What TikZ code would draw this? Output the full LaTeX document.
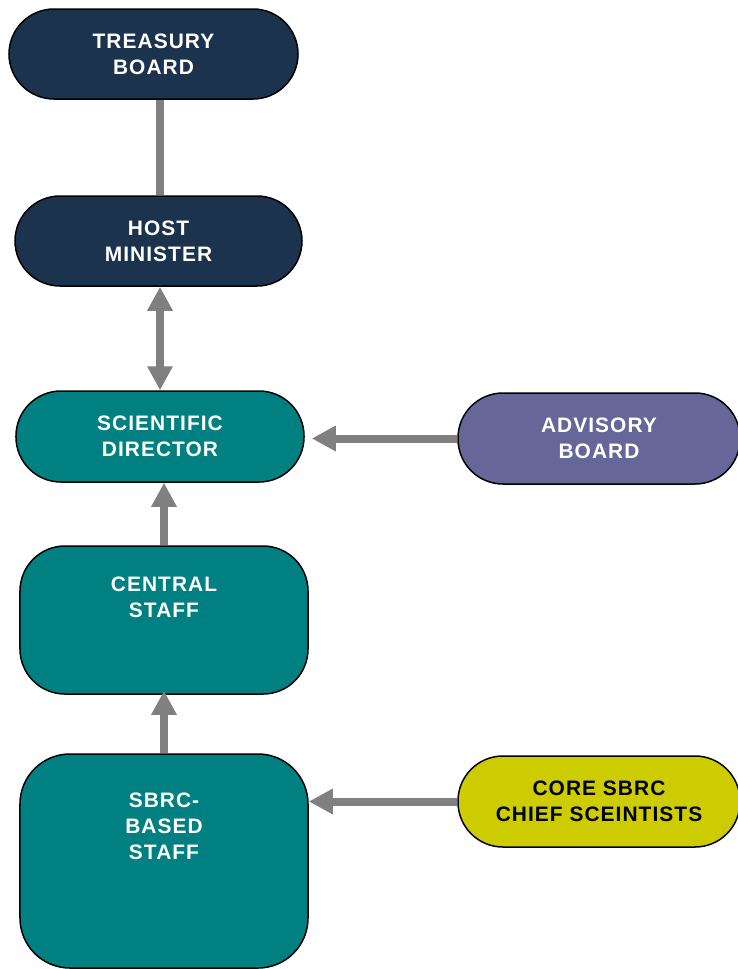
\documentclass[tikz,border=0pt]{standalone}
\usepackage{fontspec}
\setmainfont[LetterSpace=5]{Liberation Sans}
\usetikzlibrary{arrows.meta}

\definecolor{navy}{RGB}{27,51,76}
\definecolor{teal}{RGB}{0,128,128}
\definecolor{slate}{RGB}{102,102,153}
\definecolor{olive}{RGB}{204,204,0}
\definecolor{linkgray}{RGB}{128,128,128}

\tikzset{
  orgbox/.style={draw=black, line width=1.5bp, rounded corners=45bp,
    minimum width=288bp, minimum height=90bp, inner sep=0pt,
    align=center, text=white, font=\bfseries\fontsize{21}{26}\selectfont},
  orgtext/.style={align=center, text=white, inner sep=0pt,
    font=\bfseries\fontsize{21}{26}\selectfont},
  link/.style={draw=linkgray, line width=8bp},
  tip/.style={-{Triangle[length=24bp,width=24bp]}},
  twotip/.style={{Triangle[length=24bp,width=24bp]}-{Triangle[length=24bp,width=24bp]}}
}

\begin{document}
\begin{tikzpicture}[x=1bp,y=-1bp]
  \useasboundingbox (0,0) rectangle (738,969);

  % boxes
  \node[orgbox, fill=navy, minimum width=289bp] (tb) at (153.5,54) {TREASURY\\BOARD};
  \node[orgbox, fill=navy, minimum width=287bp] (hm) at (158.5,241) {HOST\\MINISTER};
  \node[orgbox, fill=teal, minimum height=91bp] (sd) at (160,436.5) {SCIENTIFIC\\DIRECTOR};
  \node[orgbox, fill=slate, minimum width=282bp, minimum height=91bp] (ab) at (599,438.5) {ADVISORY\\BOARD};
  \node[orgbox, fill=teal, minimum height=148bp] (cs) at (164,620) {};
  \node[orgtext] (cst) at (164,597) {CENTRAL\\STAFF};
  \node[orgbox, fill=teal, minimum height=214bp, rounded corners=50bp] (sb) at (164,861) {};
  \node[orgtext] (sbt) at (164,826) {SBRC-\\BASED\\STAFF};
  \node[orgbox, fill=olive, text=black, minimum width=282bp, minimum height=91bp] (co) at (599,801.5) {CORE SBRC\\CHIEF SCEINTISTS};

  % connectors
  \draw[link] ([xshift=1.5bp]hm.north |- tb.south) -- ([xshift=1.5bp]hm.north);
  \draw[link, twotip] (sd.north |- hm.south) -- (sd.north);
  \draw[link, tip, shorten >=7bp] (ab.west) -- (sd.east |- ab.west);
  \draw[link, tip] (cs.north) -- (cs.north |- sd.south);
  \draw[link, tip, shorten >=-4bp] (sb.north) -- (cs.south);
  \draw[link, tip] (co.west) -- (sb.east |- co.west);
\end{tikzpicture}
\end{document}
